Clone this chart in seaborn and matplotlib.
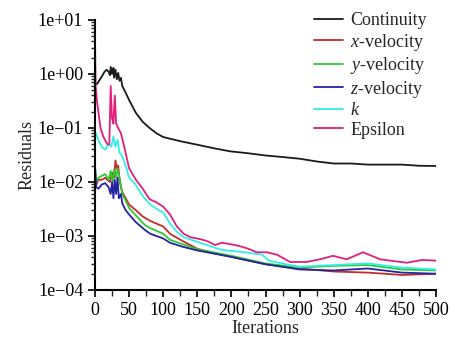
import matplotlib
matplotlib.use('Agg')
import matplotlib.pyplot as plt
import matplotlib.ticker as mticker
import seaborn as sns
import numpy as np

# residual histories (iteration, residual)
cont_it = [0, 3, 6, 10, 14, 17, 20, 22, 23, 25, 27, 28, 30, 32, 34, 36, 38, 40, 45, 50, 60, 70, 80, 90,
           100, 125, 150, 175, 198, 225, 250, 275, 300, 325, 350, 375, 400, 425, 450, 475, 500]
cont_res = [0.7, 0.65, 0.75, 0.9, 1.1, 1.2, 1.1, 0.95, 1.35, 1.0, 1.3, 0.85, 1.2, 0.8, 1.05, 0.75, 0.85, 0.6,
            0.45, 0.33, 0.19, 0.13, 0.1, 0.08, 0.068, 0.057, 0.049, 0.042, 0.037, 0.034, 0.031, 0.029, 0.027,
            0.024, 0.022, 0.022, 0.021, 0.021, 0.021, 0.02, 0.0198]

xvel_it = [0, 2, 5, 10, 15, 18, 22, 25, 28, 30, 32, 34, 36, 38, 40, 45, 50, 60, 70, 81, 90, 100, 110, 129,
           150, 175, 200, 250, 300, 350, 400, 450, 500]
xvel_res = [0.012, 0.009, 0.011, 0.011, 0.012, 0.011, 0.01, 0.015, 0.012, 0.025, 0.018, 0.02, 0.011, 0.008,
            0.0065, 0.005, 0.0038, 0.003, 0.0023, 0.0019, 0.0017, 0.0015, 0.0011, 0.0008, 0.00058, 0.00048,
            0.00041, 0.0003, 0.00025, 0.00022, 0.00021, 0.00019, 0.0002]

yvel_it = [0, 2, 5, 10, 15, 20, 23, 26, 28, 31, 33, 36, 40, 45, 50, 60, 73, 81, 100, 110, 129, 150, 200,
           250, 300, 350, 400, 450, 500]
yvel_res = [0.02, 0.01, 0.012, 0.013, 0.014, 0.011, 0.016, 0.01, 0.017, 0.012, 0.018, 0.012, 0.006, 0.0045,
            0.0033, 0.0024, 0.0016, 0.0014, 0.0011, 0.00085, 0.0007, 0.00057, 0.00043, 0.00031, 0.00026,
            0.00028, 0.00029, 0.00024, 0.00023]

zvel_it = [0, 2, 5, 10, 15, 20, 23, 25, 27, 29, 31, 33, 35, 38, 40, 45, 50, 60, 73, 81, 100, 110, 129, 150,
           200, 250, 300, 350, 400, 450, 500]
zvel_res = [0.018, 0.008, 0.0075, 0.009, 0.0095, 0.008, 0.006, 0.01, 0.005, 0.011, 0.006, 0.012, 0.005,
            0.006, 0.004, 0.003, 0.0025, 0.0018, 0.0013, 0.0011, 0.0009, 0.00075, 0.00063, 0.00054, 0.00041,
            0.0003, 0.00024, 0.00023, 0.00025, 0.00021, 0.0002]

k_it = [0, 3, 6, 10, 15, 20, 24, 27, 30, 33, 36, 40, 45, 50, 58, 70, 81, 90, 100, 110, 120, 130, 154, 186,
        220, 245, 255, 280, 300, 350, 400, 450, 500]
k_res = [0.085, 0.07, 0.055, 0.045, 0.04, 0.05, 0.045, 0.07, 0.045, 0.06, 0.035, 0.03, 0.02, 0.012, 0.0095,
         0.0055, 0.0038, 0.0032, 0.0027, 0.0017, 0.0012, 0.00095, 0.00075, 0.00055, 0.0005, 0.00045, 0.00035,
         0.0003, 0.00027, 0.00029, 0.00031, 0.00026, 0.00024]

eps_it = [0, 1, 3, 5, 8, 12, 18, 21, 23, 25, 27, 29, 31, 34, 38, 42, 46, 50, 55, 60, 70, 80, 90, 100, 110,
          120, 130, 140, 155, 165, 176, 186, 200, 212, 225, 237, 252, 267, 286, 310, 330, 349, 369, 393, 418,
          440, 457, 480, 500]
eps_res = [4.0, 0.6, 0.3, 0.2, 0.1, 0.07, 0.05, 0.05, 0.6, 0.15, 0.12, 0.4, 0.12, 0.1, 0.08, 0.05, 0.03,
           0.018, 0.014, 0.011, 0.0075, 0.0048, 0.0042, 0.0035, 0.0025, 0.0015, 0.0011, 0.00095, 0.00087,
           0.0008, 0.00068, 0.00075, 0.0007, 0.00065, 0.00058, 0.0005, 0.0005, 0.00045, 0.00033, 0.00033,
           0.00037, 0.00043, 0.00037, 0.0005, 0.00037, 0.00034, 0.00032, 0.00036, 0.00035]

series = [
    ('Continuity', cont_it, cont_res, '#1a1a1a'),
    ('$x$-velocity', xvel_it, xvel_res, '#c42a2a'),
    ('$y$-velocity', yvel_it, yvel_res, '#2ec82e'),
    ('$z$-velocity', zvel_it, zvel_res, '#2424a0'),
    ('$k$', k_it, k_res, '#33ecec'),
    ('Epsilon', eps_it, eps_res, '#e0207a'),
]

sns.set_style('ticks')
plt.rcParams['font.family'] = ['Liberation Serif', 'DejaVu Serif']
plt.rcParams['mathtext.fontset'] = 'custom'
plt.rcParams['mathtext.it'] = 'Liberation Serif:italic'
plt.rcParams['mathtext.rm'] = 'Liberation Serif'

fig = plt.figure(figsize=(4.56, 3.38), dpi=100)
ax = fig.add_axes([95 / 456, 1 - 290 / 338, 341 / 456, 270 / 338])

for name, it, res, col in series:
    sns.lineplot(x=it, y=res, ax=ax, color=col, linewidth=1.3, label=name)

ax.set_yscale('log')
ax.set_xlim(0, 500)
ax.set_ylim(1e-4, 1e1)
ax.xaxis.set_major_locator(mticker.MultipleLocator(50))
ax.xaxis.set_minor_locator(mticker.MultipleLocator(25))
ax.yaxis.set_major_locator(mticker.LogLocator(base=10, numticks=10))
ax.yaxis.set_minor_locator(mticker.LogLocator(base=10, subs=np.arange(2, 10), numticks=20))
ax.yaxis.set_minor_formatter(mticker.NullFormatter())


def fmt(v, pos):
    e = int(np.round(np.log10(v)))
    sign = '+' if e >= 0 else '\u2212'
    return '1e%s%02d' % (sign, abs(e))


ax.yaxis.set_major_formatter(mticker.FuncFormatter(fmt))
ax.tick_params(which='major', direction='out', length=5, width=1.2, labelsize=13, colors='black')
ax.tick_params(which='minor', direction='out', length=3, width=1.0)
ax.tick_params(axis='x', which='minor', length=4)
for s in ['left', 'bottom']:
    ax.spines[s].set_linewidth(1.5)
    ax.spines[s].set_color('black')
sns.despine(ax=ax)

ax.set_xlabel('Iterations', fontsize=13, labelpad=1)
ax.set_ylabel('Residuals', fontsize=13, labelpad=2)

leg = ax.legend(loc='upper left', bbox_to_anchor=(314 / 456, 1 - 12 / 338), bbox_transform=fig.transFigure,
                frameon=False, fontsize=13, handlelength=1.6, handletextpad=0.4, labelspacing=0.14,
                borderpad=0, borderaxespad=0)
for line in leg.get_lines():
    line.set_linewidth(1.3)

fig.savefig('out.png', dpi=100)
